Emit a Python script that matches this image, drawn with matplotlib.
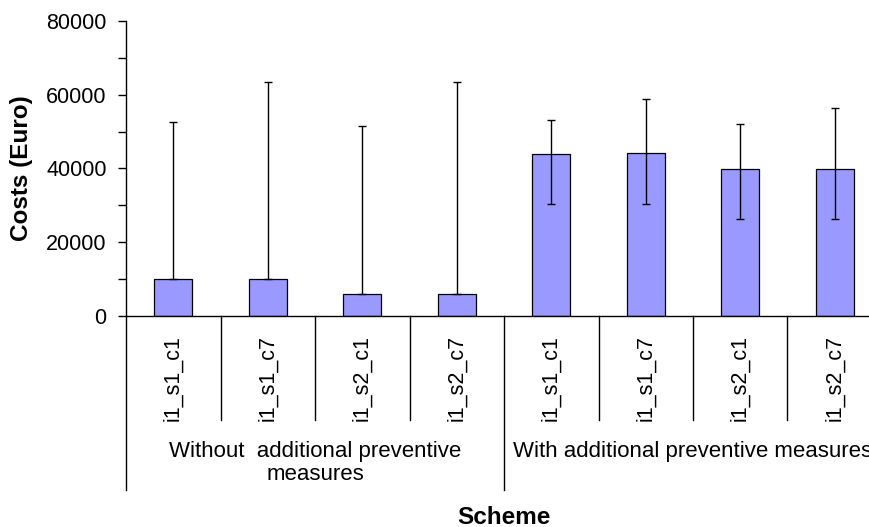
import numpy as np
import matplotlib
matplotlib.use("Agg")
import matplotlib.pyplot as plt

plt.rcParams['font.family'] = ['Liberation Sans', 'DejaVu Sans']

# data
schemes = ["i1_s1_c1", "i1_s1_c7", "i1_s2_c1", "i1_s2_c7",
           "i1_s1_c1", "i1_s1_c7", "i1_s2_c1", "i1_s2_c7"]
costs = [10000, 10000, 5800, 5800, 43900, 44200, 39800, 39900]
low = [10000, 10000, 5800, 5800, 30400, 30400, 26200, 26200]
high = [52600, 63400, 51500, 63600, 53100, 59000, 52000, 56300]
groups = ["Without  additional preventive\nmeasures", "With additional preventive measures"]
group_size = 4

W, H = 870, 527
fig = plt.figure(figsize=(W / 100, H / 100), dpi=100)

# axes box in pixels (axis runs past the right edge like in the original)
x0, x1 = 126, 882
y_top, y_bot = 21.3, 315.6
ax = fig.add_axes([x0 / W, (H - y_bot) / H, (x1 - x0) / W, (y_bot - y_top) / H])

def ypx(p):
    # pixel row below the plot -> axes fraction
    return -(p - y_bot) / (y_bot - y_top)

x = np.arange(len(costs))
costs = np.array(costs)
yerr = [costs - np.array(low), np.array(high) - costs]

ax.bar(x, costs, width=0.4, color="#9999FF", edgecolor="black", linewidth=0.9, zorder=2)
ax.errorbar(x, costs, yerr=yerr, fmt="none", ecolor="black", elinewidth=1.0,
            capsize=3.2, capthick=1.0, zorder=3)

ax.set_xlim(-0.5, len(costs) - 0.5)
ax.set_ylim(0, 80000)
ax.set_yticks(np.arange(0, 80001, 20000))
ax.set_yticks(np.arange(10000, 80000, 20000), minor=True)
ax.tick_params(axis="y", which="both", direction="out", length=6, width=1, labelsize=15.5, pad=8)

ax.set_xticks(x)
ax.set_xticklabels(schemes, rotation=90, fontsize=15.5)
ax.tick_params(axis="x", length=0, pad=14)
for lab in ax.get_xticklabels():
    lab.set_verticalalignment("top")

for s in ["top", "right"]:
    ax.spines[s].set_visible(False)
ax.spines["left"].set_linewidth(1)
ax.spines["bottom"].set_linewidth(1)

# category separators below the axis
tr = ax.get_xaxis_transform()
for b in np.arange(-0.5, len(costs), 1.0):
    if (b + 0.5) % group_size == 0:
        ax.plot([b, b], [0, ypx(490)], color="black", lw=1, transform=tr, clip_on=False)
    else:
        ax.plot([b, b], [0, ypx(420)], color="black", lw=1, transform=tr, clip_on=False)

for i, g in enumerate(groups):
    xc = i * group_size + (group_size - 1) / 2
    ax.text(xc, ypx(441), g, transform=tr, ha="center", va="top", fontsize=16,
            linespacing=1.15, clip_on=False)

fig.text((x0 + x1) / 2 / W, 1 - 517 / H, "Scheme", ha="center", va="center",
         fontsize=17.5, fontweight="bold")
fig.text(22 / W, 1 - (y_top + y_bot) / 2 / H, "Costs (Euro)", rotation=90, ha="center",
         va="center", fontsize=17.5, fontweight="bold")

fig.savefig("out.png", dpi=100)
